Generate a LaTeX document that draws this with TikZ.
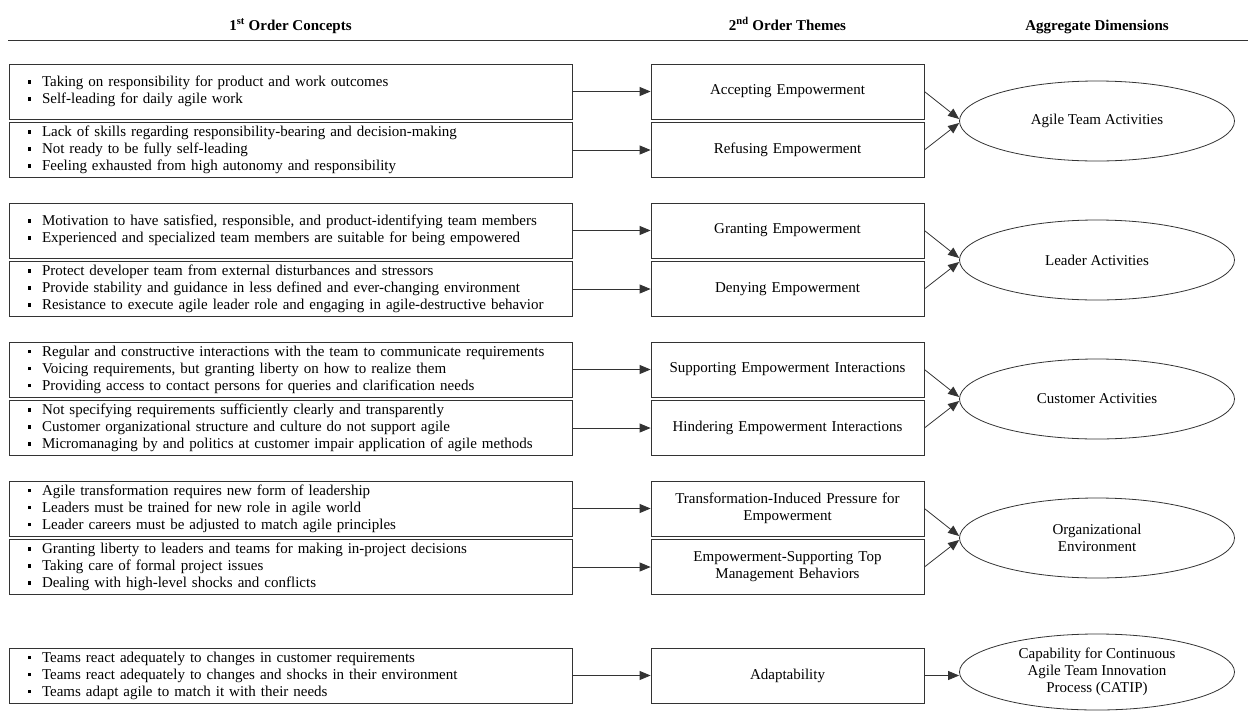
\documentclass[tikz,border=0pt]{standalone}
\usepackage{fontspec}
\setmainfont{Liberation Serif}
\usetikzlibrary{arrows.meta,shapes.geometric}
\newcommand{\bl}{\makebox[14pt][l]{\rule[3pt]{3.2pt}{3.2pt}}}
\begin{document}
\begin{tikzpicture}[x=1pt,y=-1pt,
  font=\fontsize{15}{17}\selectfont,
  line/.style={draw=black!80, line width=0.8pt},
  lbox/.style={line, minimum width=563pt, minimum height=55pt, text width=525pt, align=left, inner xsep=19pt, inner ysep=0pt},
  mbox/.style={line, minimum width=273pt, minimum height=55pt, text width=263pt, align=center, inner xsep=5pt, inner ysep=0pt},
  ell/.style={line, ellipse, minimum width=275pt, minimum height=80pt, inner sep=0pt, align=center},
  arr/.style={line, -{Triangle[length=11pt,width=9pt]}},
  hdr/.style={anchor=base, font=\fontsize{15}{17}\selectfont\bfseries}]
\useasboundingbox (0,0) rectangle (1248,710);
% header
\node[hdr] (h1) at (290.5,30) {1\textsuperscript{st} Order Concepts};
\node[hdr] (h2) at (787.5,30) {2\textsuperscript{nd} Order Themes};
\node[hdr] (h3) at (1097,30) {Aggregate Dimensions};
\coordinate (hl) at (8,40);
\coordinate (hr) at (1248,40);
\draw[line] (hl) -- (hr);
% group 1
\node[lbox] (l1) at (290.5,91.5) {\bl Taking on responsibility for product and work outcomes\\\bl Self-leading for daily agile work};
\node[lbox] (l2) at (290.5,150) {\bl Lack of skills regarding responsibility-bearing and decision-making\\\bl Not ready to be fully self-leading\\\bl Feeling exhausted from high autonomy and responsibility};
\node[mbox] (m1) at (787.5,91.5) {Accepting Empowerment};
\node[mbox] (m2) at (787.5,150) {Refusing Empowerment};
\node[ell] (e1) at (1097,121) {Agile Team Activities};
% group 2
\node[lbox] (l3) at (290.5,230.5) {\bl Motivation to have satisfied, responsible, and product-identifying team members\\\bl Experienced and specialized team members are suitable for being empowered};
\node[lbox] (l4) at (290.5,289) {\bl Protect developer team from external disturbances and stressors\\\bl Provide stability and guidance in less defined and ever-changing environment\\\bl Resistance to execute agile leader role and engaging in agile-destructive behavior};
\node[mbox] (m3) at (787.5,230.5) {Granting Empowerment};
\node[mbox] (m4) at (787.5,289) {Denying Empowerment};
\node[ell] (e2) at (1097,260) {Leader Activities};
% group 3
\node[lbox] (l5) at (290.5,369.5) {\bl Regular and constructive interactions with the team to communicate requirements\\\bl Voicing requirements, but granting liberty on how to realize them\\\bl Providing access to contact persons for queries and clarification needs};
\node[lbox] (l6) at (290.5,428) {\bl Not specifying requirements sufficiently clearly and transparently\\\bl Customer organizational structure and culture do not support agile\\\bl Micromanaging by and politics at customer impair application of agile methods};
\node[mbox] (m5) at (787.5,369.5) {Supporting Empowerment Interactions};
\node[mbox] (m6) at (787.5,428) {Hindering Empowerment Interactions};
\node[ell] (e3) at (1097,399) {Customer Activities};
% group 4
\node[lbox] (l7) at (290.5,508.5) {\bl Agile transformation requires new form of leadership\\\bl Leaders must be trained for new role in agile world\\\bl Leader careers must be adjusted to match agile principles};
\node[lbox] (l8) at (290.5,567) {\bl Granting liberty to leaders and teams for making in-project decisions\\\bl Taking care of formal project issues\\\bl Dealing with high-level shocks and conflicts};
\node[mbox] (m7) at (787.5,508.5) {Transformation-Induced Pressure for\\Empowerment};
\node[mbox] (m8) at (787.5,567) {Empowerment-Supporting Top\\Management Behaviors};
\node[ell] (e4) at (1097,538) {Organizational\\Environment};
% group 5
\node[lbox] (l9) at (290.5,675.5) {\bl Teams react adequately to changes in customer requirements\\\bl Teams react adequately to changes and shocks in their environment\\\bl Teams adapt agile to match it with their needs};
\node[mbox] (m9) at (787.5,675.5) {Adaptability};
\node[ell, minimum height=76pt] (e5) at (1097,672) {Capability for Continuous\\Agile Team Innovation\\Process (CATIP)};
% arrows left -> middle
\foreach \i in {1,...,9} {\draw[arr] (l\i.east) -- (m\i.west);}
% arrows middle -> ellipses
\draw[arr] (m1.east) -- ([yshift=2pt]e1.west);
\draw[arr] (m2.east) -- ([yshift=-2pt]e1.west);
\draw[arr] (m3.east) -- ([yshift=2pt]e2.west);
\draw[arr] (m4.east) -- ([yshift=-2pt]e2.west);
\draw[arr] (m5.east) -- ([yshift=2pt]e3.west);
\draw[arr] (m6.east) -- ([yshift=-2pt]e3.west);
\draw[arr] (m7.east) -- ([yshift=2pt]e4.west);
\draw[arr] (m8.east) -- ([yshift=-2pt]e4.west);
\draw[arr] (m9.east) -- (e5.west |- m9.east);
\end{tikzpicture}
\end{document}
